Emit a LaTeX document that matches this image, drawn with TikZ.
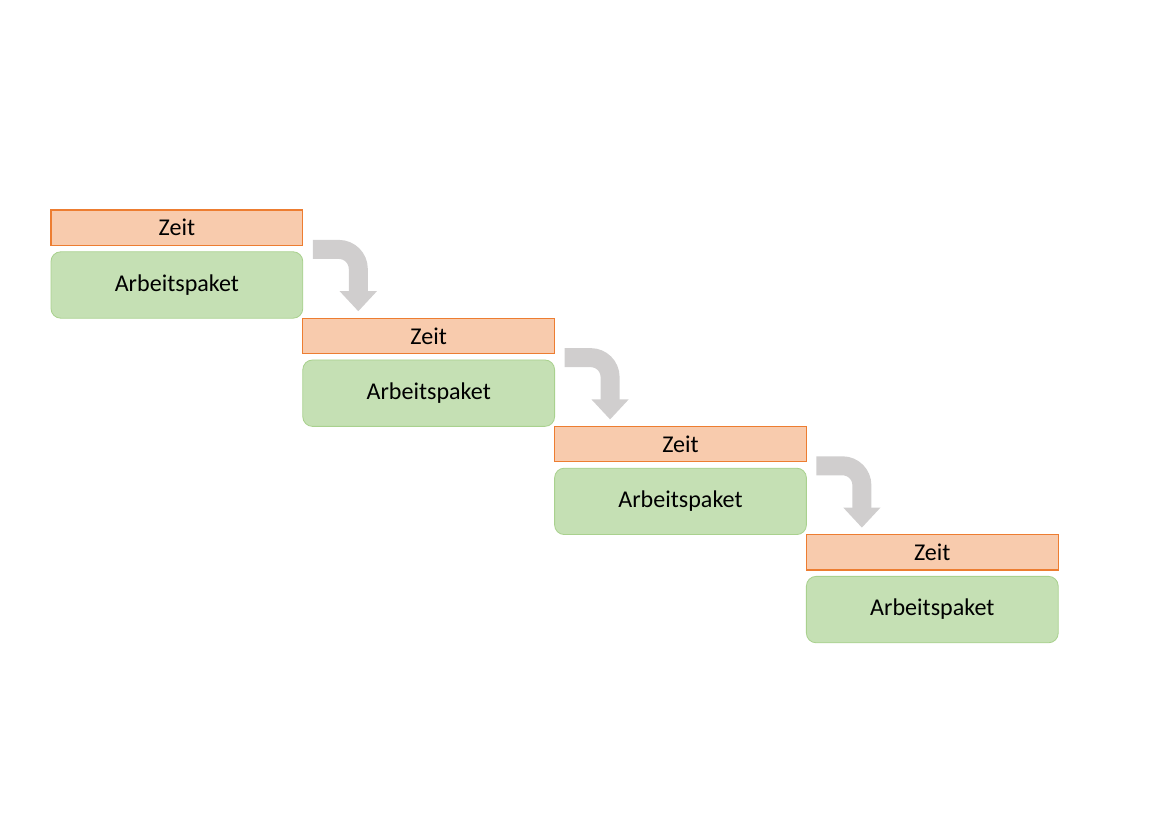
\documentclass[tikz,border=0pt]{standalone}
\usepackage{fontspec}
\setmainfont{Carlito}
\usepackage{xcolor}
\usetikzlibrary{arrows.meta,positioning}

\definecolor{zeitfill}{RGB}{248,203,173}
\definecolor{zeitline}{RGB}{237,125,49}
\definecolor{paketfill}{RGB}{197,224,180}
\definecolor{paketline}{RGB}{169,209,142}
\definecolor{flowgray}{RGB}{208,206,206}

\begin{document}
\begin{tikzpicture}[x=0.7228pt,y=-0.7228pt,node distance=4.6pt,
            font=\fontsize{17.4}{20}\selectfont]
        \tikzstyle{zeit}=[draw=zeitline,fill=zeitfill,line width=0.8pt,
            minimum width=182pt,minimum height=25.6pt,inner sep=0pt,outer sep=0pt]
        \tikzstyle{paket}=[draw=paketline,fill=paketfill,line width=0.6pt,rounded corners=7pt,
            minimum width=182pt,minimum height=48pt,inner sep=0pt,outer sep=0pt]
        \tikzstyle{flow}=[draw=flowgray,line width=13.7pt,rounded corners=14pt,
            -{Triangle[width=26pt,length=14.5pt]}]

        \useasboundingbox (0,0) rectangle (1169,826);

        \node[zeit,anchor=north west] (Z1) at (51,210) {Zeit};
        \node[paket] (P1) [below=of Z1] {Arbeitspaket};
        \node[zeit] (Z2) [below right=0pt and 0pt of P1] {Zeit};
        \node[paket] (P2) [below=of Z2] {Arbeitspaket};
        \node[zeit] (Z3) [below right=0pt and 0pt of P2] {Zeit};
        \node[paket] (P3) [below=of Z3] {Arbeitspaket};
        \node[zeit] (Z4) [below right=0pt and 0pt of P3] {Zeit};
        \node[paket] (P4) [below=of Z4] {Arbeitspaket};

        \path[flow] ([xshift=7.2pt,yshift=-2.9pt]Z1.south east) -| ([xshift=40.1pt,yshift=5pt]Z2.north west);
        \path[flow] ([xshift=7.2pt,yshift=-2.9pt]Z2.south east) -| ([xshift=40.1pt,yshift=5pt]Z3.north west);
        \path[flow] ([xshift=7.2pt,yshift=-2.9pt]Z3.south east) -| ([xshift=40.1pt,yshift=5pt]Z4.north west);
    \end{tikzpicture}
\end{document}
